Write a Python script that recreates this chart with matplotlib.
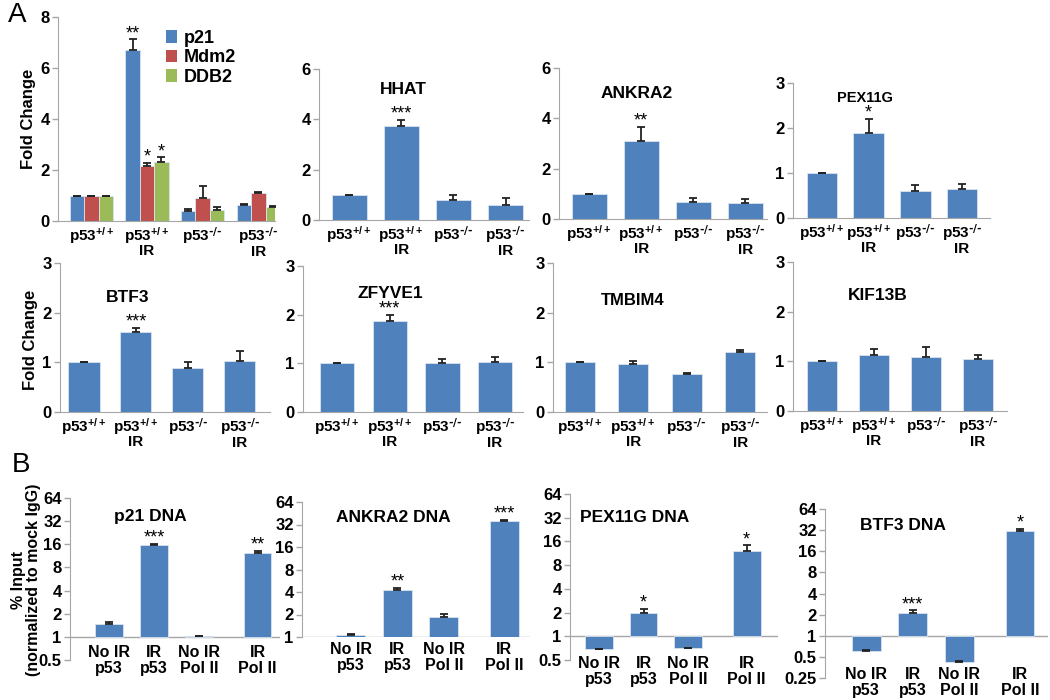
import numpy as np
import matplotlib
matplotlib.use("Agg")
import matplotlib.pyplot as plt

plt.rcParams['font.family'] = ['Liberation Sans', 'DejaVu Sans']
plt.rcParams['font.weight'] = 'bold'
plt.rcParams['mathtext.default'] = 'regular'

BLUE = '#4F81BD'
RED = '#C0504D'
GREEN = '#9BBB59'
GRAY = '#A6A6A6'

# ---- data ----
groups = [r'p53$^{+/+}$', r'p53$^{+/+}$' + '\nIR',
          r'p53$^{\text{-/-}}$', r'p53$^{\text{-/-}}$' + '\nIR']
chip_groups = ['No IR\np53', 'IR\np53', 'No IR\nPol II', 'IR\nPol II']

# panel A, first plot (three genes)
p21_fc = [1.0, 6.72, 0.40, 0.62]
p21_err = [0, 0.40, 0.08, 0.04]
mdm2_fc = [1.0, 2.15, 0.92, 1.10]
mdm2_err = [0, 0.12, 0.47, 0.03]
ddb2_fc = [1.0, 2.32, 0.44, 0.55]
ddb2_err = [0, 0.18, 0.10, 0.03]
p21_stars = ['', '**', '', '']
mdm2_stars = ['', '*', '', '']
ddb2_stars = ['', '*', '', '']

genes = ['HHAT', 'ANKRA2', 'PEX11G', 'BTF3', 'ZFYVE1', 'TMBIM4', 'KIF13B']
gene_fc = {
    'HHAT':   [1.0, 3.72, 0.78, 0.60],
    'ANKRA2': [1.0, 3.10, 0.67, 0.64],
    'PEX11G': [1.0, 1.90, 0.60, 0.65],
    'BTF3':   [1.0, 1.62, 0.88, 1.02],
    'ZFYVE1': [1.0, 1.87, 1.00, 1.02],
    'TMBIM4': [1.0, 0.97, 0.76, 1.21],
    'KIF13B': [1.0, 1.12, 1.08, 1.05],
}
gene_err = {
    'HHAT':   [0, 0.25, 0.22, 0.27],
    'ANKRA2': [0, 0.55, 0.17, 0.15],
    'PEX11G': [0, 0.30, 0.13, 0.10],
    'BTF3':   [0, 0.07, 0.13, 0.20],
    'ZFYVE1': [0, 0.12, 0.08, 0.10],
    'TMBIM4': [0, 0.05, 0.02, 0.04],
    'KIF13B': [0, 0.13, 0.20, 0.07],
}
gene_stars = {
    'HHAT': ['', '***', '', ''],
    'ANKRA2': ['', '**', '', ''],
    'PEX11G': ['', '*', '', ''],
    'BTF3': ['', '***', '', ''],
    'ZFYVE1': ['', '***', '', ''],
    'TMBIM4': ['', '', '', ''],
    'KIF13B': ['', '', '', ''],
}

# panel B, ChIP (% input normalized to mock IgG)
chip_names = ['p21 DNA', 'ANKRA2 DNA', 'PEX11G DNA', 'BTF3 DNA']
chip_vals = {
    'p21 DNA':    [1.48, 15.5, 1.02, 12.3],
    'ANKRA2 DNA': [1.08, 4.2, 1.85, 36.0],
    'PEX11G DNA': [0.68, 2.0, 0.70, 12.0],
    'BTF3 DNA':   [0.61, 2.1, 0.42, 31.0],
}
chip_err = {
    'p21 DNA':    [0.10, 0.8, 0.02, 0.8],
    'ANKRA2 DNA': [0.03, 0.3, 0.20, 1.0],
    'PEX11G DNA': [0.01, 0.25, 0.01, 2.3],
    'BTF3 DNA':   [0.02, 0.2, 0.01, 2.5],
}
chip_stars = {
    'p21 DNA': ['', '***', '', '**'],
    'ANKRA2 DNA': ['', '**', '', '***'],
    'PEX11G DNA': ['', '*', '', '*'],
    'BTF3 DNA': ['', '***', '', '*'],
}

W, H = 1050, 700
fig = plt.figure(figsize=(10.5, 7), dpi=100)


def px_axes(x0, ytop, x1, ybot):
    return fig.add_axes([x0 / W, 1 - ybot / H, (x1 - x0) / W, (ybot - ytop) / H])


def ftext(x, y, s, **kw):
    return fig.text(x / W, 1 - y / H, s, **kw)


def style(ax):
    for s in ['top', 'right']:
        ax.spines[s].set_visible(False)
    ax.spines['left'].set_color(GRAY)
    ax.spines['bottom'].set_color(GRAY)
    ax.tick_params(axis='y', colors=GRAY, labelcolor='black', length=4, width=1,
                   labelsize=12, pad=2)
    ax.tick_params(axis='x', length=0, labelsize=11, pad=3)
    ax.set_facecolor('none')


def set_groups(ax, pos):
    ax.set_xticks(pos)
    ax.set_xticklabels(groups)
    for t in ax.get_xticklabels():
        t.set_linespacing(0.85)


def stars(ax, x, top, s, size=13):
    if s:
        ax.annotate(s, (x, top), xytext=(0, -2), textcoords='offset points',
                    ha='center', va='bottom', fontsize=size, fontweight='normal')


def bars(ax, pos, vals, errs, width, color, bottom=0):
    heights = [v - bottom for v in vals]
    ax.bar(pos, heights, width, bottom=bottom, color=color, edgecolor='#dbe4f0',
           linewidth=0.6, zorder=2)
    ax.errorbar(pos, vals, yerr=[np.zeros(len(vals)), errs], fmt='none',
                ecolor='#222222', elinewidth=1.3, capsize=3, capthick=1.3, zorder=3)


# ---------- A: first plot ----------
ax = px_axes(58, 17, 275, 221)
style(ax)
pos = np.arange(4)
bw = 0.26
for k, (v, e, st, c, lab) in enumerate([(p21_fc, p21_err, p21_stars, BLUE, 'p21'),
                                        (mdm2_fc, mdm2_err, mdm2_stars, RED, 'Mdm2'),
                                        (ddb2_fc, ddb2_err, ddb2_stars, GREEN, 'DDB2')]):
    xp = pos + (k - 1) * bw
    bars(ax, xp, v, e, bw, c)
    ax.bar([0], [0], color=c, label=lab)
    for i in range(4):
        stars(ax, xp[i], v[i] + e[i], st[i])
ax.set_xlim(-0.6, 3.3)
ax.set_ylim(0, 8)
ax.set_yticks([0, 2, 4, 6, 8])
set_groups(ax, pos)
ax.legend(loc='upper left', bbox_to_anchor=(0.44, 1.0), frameon=False, fontsize=13,
          handlelength=0.6, handleheight=0.7, handletextpad=0.4, labelspacing=0.15,
          borderpad=0.2)
ftext(28, 119, 'Fold Change', rotation=90, ha='center', va='center', fontsize=12)

# ---------- A: single-gene plots ----------
# (rect px: x0, ytop, x1, ybot), xlim, ymax, yticks, bar width, title pos, title size
single_layout = {
    'HHAT':   ((319, 69, 529, 220), (-0.58, 3.45), 6, [0, 2, 4, 6], 0.67, (403, 90), 12.5),
    'ANKRA2': ((559, 68, 767, 219), (-0.58, 3.42), 6, [0, 2, 4, 6], 0.67, (637, 93), 12.5),
    'PEX11G': ((793, 83, 990, 218), (-0.62, 3.6), 3, [0, 1, 2, 3], 0.66, (865, 98), 10.5),
    'BTF3':   ((60, 263, 270, 412), (-0.46, 3.58), 3, [0, 1, 2, 3], 0.6, (128, 298), 12.5),
    'ZFYVE1': ((303, 266, 523, 412), (-0.65, 3.53), 3, [0, 1, 2, 3], 0.65, (390, 293), 12.5),
    'TMBIM4': ((553, 263, 767, 412), (-0.5, 3.5), 3, [0, 1, 2, 3], 0.57, (633, 301), 12),
    'KIF13B': ((793, 262, 1007, 411), (-0.56, 3.56), 3, [0, 1, 2, 3], 0.58, (878, 296), 12.5),
}
for g in genes:
    rect, xl, ymax, yt, bwid, tpos, tsize = single_layout[g]
    ax = px_axes(*rect)
    style(ax)
    bars(ax, pos, gene_fc[g], gene_err[g], bwid, BLUE)
    for i in range(4):
        stars(ax, pos[i], gene_fc[g][i] + gene_err[g][i], gene_stars[g][i])
    ax.set_xlim(*xl)
    ax.set_ylim(0, ymax)
    ax.set_yticks(yt)
    set_groups(ax, pos)
    ftext(tpos[0], tpos[1], g, ha='center', va='center', fontsize=tsize)
ftext(30, 340, 'Fold Change', rotation=90, ha='center', va='center', fontsize=12)

# ---------- B: ChIP plots (log2 axis, bars from 1) ----------
chip_pos = np.array([0, 1, 2, 3.3])
chip_layout = {
    'p21 DNA':    ((70, 498, 280, 660), (-0.87, 3.8), (0.5, 64), [0.5, 1, 2, 4, 8, 16, 32, 64], 645, (150, 517)),
    'ANKRA2 DNA': ((302, 502, 530, 637), (-1.05, 3.85), (1, 64), [1, 2, 4, 8, 16, 32, 64], 642, (393, 518)),
    'PEX11G DNA': ((570, 494, 778, 660), (-0.64, 4.0), (0.5, 64), [0.5, 1, 2, 4, 8, 16, 32, 64], 656, (635, 517)),
    'BTF3 DNA':   ((825, 509, 1048, 678), (-0.88, 3.9), (0.25, 64), [0.25, 0.5, 1, 2, 4, 8, 16, 32, 64], 667, (903, 525)),
}
for name in chip_names:
    rect, xl, yl, yt, lab_y, tpos = chip_layout[name]
    ax = px_axes(*rect)
    style(ax)
    ax.set_yscale('log', base=2)
    ax.spines['bottom'].set_visible(False)
    ax.axhline(1, color=GRAY, lw=1, zorder=1)
    v = chip_vals[name]
    e = chip_err[name]
    bars(ax, chip_pos, v, e, 0.62, BLUE, bottom=1)
    for i in range(4):
        stars(ax, chip_pos[i], v[i] + e[i], chip_stars[name][i])
    ax.set_xlim(*xl)
    ax.set_ylim(*yl)
    ax.set_yticks(yt)
    ax.set_yticklabels([('%g' % t) for t in yt])
    ax.minorticks_off()
    ax.set_xticks([])
    for i, lab in enumerate(chip_groups):
        xf = ax.transData.transform((chip_pos[i], 1))[0]
        ftext(xf, lab_y, lab, ha='center', va='top', fontsize=11.5, linespacing=1.05)
    ftext(tpos[0], tpos[1], name, ha='center', va='center', fontsize=12.5)

ftext(26, 580, '% Input\n(normalized to mock IgG)', rotation=90, ha='center', va='center',
      fontsize=11.5, linespacing=1.0)

ftext(8, 15, 'A', fontsize=20, fontweight='normal', va='center')
ftext(12, 465, 'B', fontsize=20, fontweight='normal', va='center')

fig.savefig('out.png', dpi=100)
